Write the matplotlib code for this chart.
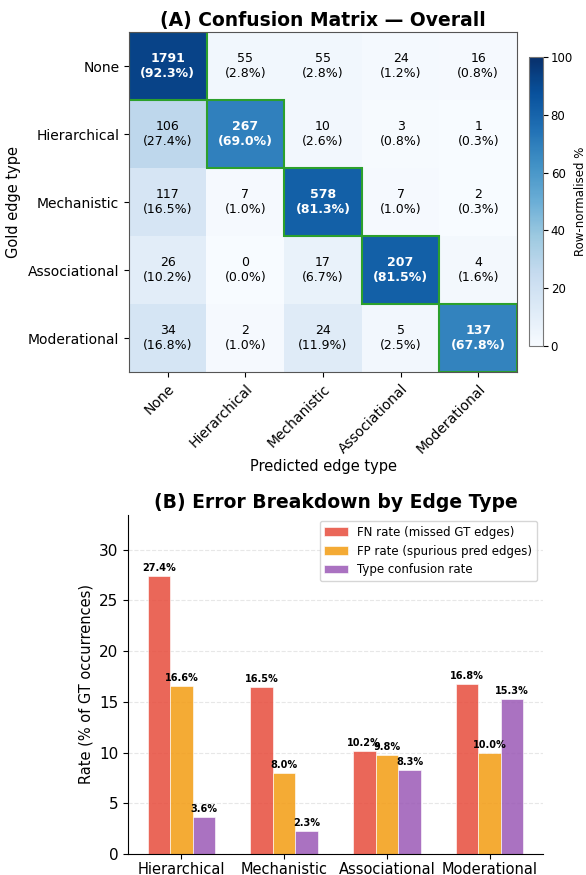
import numpy as np
import matplotlib.pyplot as plt
from matplotlib.patches import Rectangle

# confusion matrix data (rows = gold, cols = predicted)
labels = ["None", "Hierarchical", "Mechanistic", "Associational", "Moderational"]
counts_none = [1791, 55, 55, 24, 16]
counts_hier = [106, 267, 10, 3, 1]
counts_mech = [117, 7, 578, 7, 2]
counts_assoc = [26, 0, 17, 207, 4]
counts_mod = [34, 2, 24, 5, 137]

# error breakdown data
edge_types = ["Hierarchical", "Mechanistic", "Associational", "Moderational"]
fn_rate = [27.4, 16.5, 10.2, 16.8]
fp_rate = [16.6, 8.0, 9.8, 10.0]
type_conf = [3.6, 2.3, 8.3, 15.3]

counts = np.array([counts_none, counts_hier, counts_mech, counts_assoc, counts_mod])
pct = counts / counts.sum(axis=1, keepdims=True) * 100

fig = plt.figure(figsize=(5.86, 8.75), dpi=100)

# (A) confusion matrix
ax1 = fig.add_axes([129 / 586, 1 - 372 / 875, 388 / 586, 340 / 875])
im = ax1.imshow(pct, cmap="Blues", vmin=0, vmax=100, aspect="auto")
n = len(labels)
for i in range(n):
    for j in range(n):
        diag = i == j
        col = "white" if pct[i, j] > 50 else "black"
        ax1.text(j, i, f"{counts[i, j]}\n({pct[i, j]:.1f}%)", ha="center", va="center",
                 fontsize=9, color=col, fontweight="bold" if diag else "normal")
    ax1.add_patch(Rectangle((i - 0.5, i - 0.5), 1, 1, fill=False,
                            edgecolor="#2ca02c", linewidth=1.5))
ax1.set_xticks(range(n))
ax1.set_yticks(range(n))
ax1.set_xticklabels(labels, rotation=45, ha="right", rotation_mode="anchor", fontsize=10)
ax1.set_yticklabels(labels, fontsize=10)
ax1.set_xlabel("Predicted edge type", fontsize=10.5, labelpad=2)
ax1.set_ylabel("Gold edge type", fontsize=10.5, labelpad=5)
ax1.set_title("(A) Confusion Matrix — Overall", fontsize=13.5, fontweight="bold", pad=4)
for s in ax1.spines.values():
    s.set_color("#555555")

cax = fig.add_axes([529 / 586, 1 - 346 / 875, 14 / 586, 289 / 875])
cb = fig.colorbar(im, cax=cax)
cb.set_label("Row-normalised %", fontsize=8.5, labelpad=1)
cb.set_ticks([0, 20, 40, 60, 80, 100])
cb.ax.tick_params(labelsize=8.5, pad=2)
cb.outline.set_edgecolor("#777777")

# (B) error breakdown
ax2 = fig.add_axes([128 / 586, 1 - 854 / 875, 415 / 586, 339 / 875])
x = np.arange(len(edge_types))
w = 0.22
series = [
    (fn_rate, "#e74c3c", "FN rate (missed GT edges)"),
    (fp_rate, "#f39c12", "FP rate (spurious pred edges)"),
    (type_conf, "#9b59b6", "Type confusion rate"),
]
for k, (vals, c, lab) in enumerate(series):
    bars = ax2.bar(x + (k - 1) * w, vals, w, color=c, alpha=0.85, label=lab,
                   edgecolor="white", linewidth=0.5)
    for b, v in zip(bars, vals):
        ax2.text(b.get_x() + b.get_width() / 2, v + 0.3, f"{v:.1f}%",
                 ha="center", va="bottom", fontsize=7, fontweight="bold")
ax2.set_xticks(x)
ax2.set_xticklabels(edge_types, fontsize=10.5)
ax2.tick_params(axis="x", pad=2)
ax2.tick_params(axis="y", labelsize=11)
ax2.set_xlim(-0.52, 3.52)
ax2.set_ylim(0, max(fn_rate) * 1.22)
ax2.set_ylabel("Rate (% of GT occurrences)", fontsize=10.5)
ax2.set_title("(B) Error Breakdown by Edge Type", fontsize=13.5, fontweight="bold", pad=5)
ax2.yaxis.grid(True, linestyle="--", alpha=0.3)
ax2.set_axisbelow(True)
ax2.spines["top"].set_visible(False)
ax2.spines["right"].set_visible(False)
ax2.legend(loc="upper right", fontsize=8.5)

fig.savefig("out.png", dpi=100)
